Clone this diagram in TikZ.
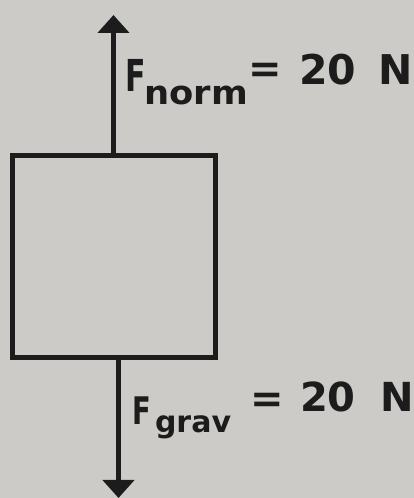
\documentclass[tikz,border=0pt]{standalone}
\usepackage{fontspec}
\setmainfont{DejaVu Sans}
\usetikzlibrary{arrows.meta}
\definecolor{paper}{RGB}{204,203,199}
\definecolor{ink}{RGB}{28,28,28}
\newcommand{\fsz}[1]{\fontsize{#1}{#1}\selectfont\bfseries}
\tikzset{
  lbl/.style={inner sep=0pt, outer sep=0pt, anchor=base west, text=ink},
  force/.style={draw=ink, line width=5pt, -{Triangle[width=31pt,length=18pt]}},
  body/.style={draw=ink, line width=5pt, inner sep=0pt, outer sep=0pt, minimum width=203pt, minimum height=202pt}
}
\begin{document}
\begin{tikzpicture}[x=1pt,y=1pt]
\fill[paper] (0,0) rectangle (414,498);
\useasboundingbox (0,0) rectangle (414,498);
\node[body] (box) at (113.5,241) {};
\coordinate (top) at (113.5,483);
\coordinate (bot) at (118.5,0);
\draw[force] (box.north) -- (top);
\draw[force] (box.south -| bot) -- (bot);
% F_norm = 20 N
\node[lbl] (fn) at (125,406) {\fsz{44}\scalebox{0.68}[1]{F}};
\node[lbl] (norm) at (144.5,393) {\fsz{33}\scalebox{1.07}[1]{norm}};
\node[lbl, anchor=center] (eqn) at (265,425) {\fsz{40}=};
\node[lbl] (vn) at (299,413) {\fsz{41}20};
\node[lbl, anchor=base] (nn) at (396,413) {\fsz{41}N};
% F_grav = 20 N
\node[lbl] (fg) at (132,73) {\fsz{38}\scalebox{0.72}[1]{F}};
\node[lbl] (grav) at (155,65) {\fsz{30}grav};
\node[lbl, anchor=center] (eqg) at (267.5,95.5) {\fsz{40}=};
\node[lbl] (vg) at (300,86) {\fsz{40}20};
\node[lbl, anchor=base] (ng) at (397,86) {\fsz{40}N};
\end{tikzpicture}
\end{document}
